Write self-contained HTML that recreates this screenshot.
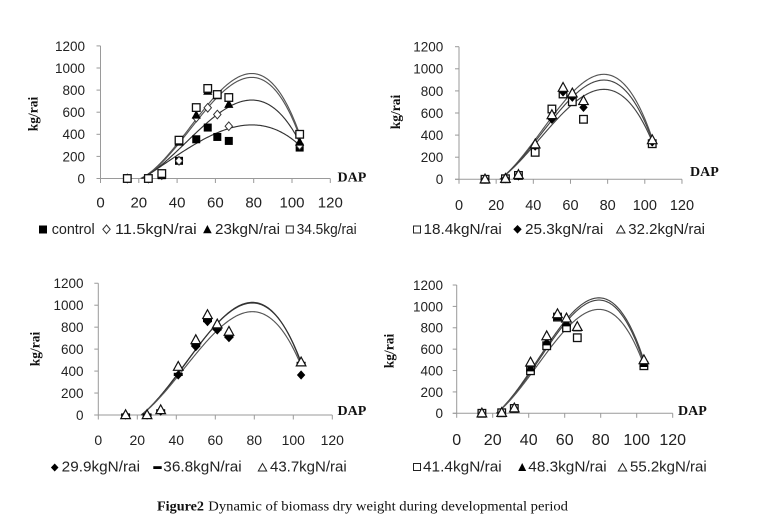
<!DOCTYPE html>
<html><head><meta charset="utf-8">
<style>
html,body{margin:0;padding:0;background:#fff;}
svg{display:block;}
.t{font-family:"Liberation Sans",Arial,sans-serif;fill:#222;}
.s{font-family:"Liberation Serif","Times New Roman",serif;fill:#111;}
</style></head><body>
<svg id="c" width="774" height="532" viewBox="0 0 774 532" xmlns="http://www.w3.org/2000/svg">
<rect x="0" y="0" width="774" height="532" fill="#fff"/>

<!-- DAP labels -->
<text class="s" x="337.5" y="181.5" font-size="14" font-weight="bold">DAP</text>
<text class="s" x="690" y="176" font-size="14" font-weight="bold">DAP</text>
<text class="s" x="337.5" y="415" font-size="14" font-weight="bold">DAP</text>
<text class="s" x="678" y="415" font-size="14" font-weight="bold">DAP</text>

<!-- kg/rai labels -->
<text class="s" font-size="13.5" font-weight="bold" text-anchor="middle" transform="translate(37.5,114) rotate(-90)">kg/rai</text>
<text class="s" font-size="13.5" font-weight="bold" text-anchor="middle" transform="translate(400,112) rotate(-90)">kg/rai</text>
<text class="s" font-size="13.5" font-weight="bold" text-anchor="middle" transform="translate(39.5,349) rotate(-90)">kg/rai</text>
<text class="s" font-size="13.5" font-weight="bold" text-anchor="middle" transform="translate(393.5,351) rotate(-90)">kg/rai</text>

<!-- Legend 1 -->
<rect x="39" y="225.5" width="8" height="8" fill="#000"/>
<text class="t" x="51.7" y="234" font-size="15" textLength="43" lengthAdjust="spacingAndGlyphs">control</text>
<polygon points="106.5,225 110.2,229.3 106.5,233.6 102.8,229.3" fill="#fff" stroke="#333" stroke-width="1"/>
<text class="t" x="115" y="234" font-size="15" textLength="81.7" lengthAdjust="spacingAndGlyphs">11.5kgN/rai</text>
<polygon points="207.4,225 211.7,233.3 203.1,233.3" fill="#000"/>
<text class="t" x="215" y="234" font-size="15" textLength="65" lengthAdjust="spacingAndGlyphs">23kgN/rai</text>
<rect x="286.3" y="226" width="7" height="7" fill="#fff" stroke="#222" stroke-width="1"/>
<text class="t" x="296.7" y="234" font-size="15" textLength="60" lengthAdjust="spacingAndGlyphs">34.5kg/rai</text>

<!-- Legend 2 -->
<rect x="413.5" y="226" width="7" height="7" fill="#fff" stroke="#222" stroke-width="1"/>
<text class="t" x="423.5" y="234" font-size="15" textLength="78.3" lengthAdjust="spacingAndGlyphs">18.4kgN/rai</text>
<polygon points="517.5,225 521.7,229.3 517.5,233.6 513.3,229.3" fill="#000"/>
<text class="t" x="525" y="234" font-size="15" textLength="78.3" lengthAdjust="spacingAndGlyphs">25.3kgN/rai</text>
<polygon points="620.8,225.5 625,233 616.6,233" fill="#fff" stroke="#222" stroke-width="1"/>
<text class="t" x="628.3" y="234" font-size="15" textLength="76.7" lengthAdjust="spacingAndGlyphs">32.2kgN/rai</text>

<!-- Legend 3 -->
<polygon points="54.7,463.5 58.5,467.5 54.7,471.5 50.9,467.5" fill="#000"/>
<text class="t" x="61.7" y="471.3" font-size="15" textLength="78.3" lengthAdjust="spacingAndGlyphs">29.9kgN/rai</text>
<rect x="153.3" y="466.2" width="8.4" height="2.8" fill="#000"/>
<text class="t" x="163.3" y="471.3" font-size="15" textLength="78.4" lengthAdjust="spacingAndGlyphs">36.8kgN/rai</text>
<polygon points="262.5,463.5 266.7,471 258.3,471" fill="#fff" stroke="#222" stroke-width="1"/>
<text class="t" x="270" y="471.3" font-size="15" textLength="76.7" lengthAdjust="spacingAndGlyphs">43.7kgN/rai</text>

<!-- Legend 4 -->
<rect x="413.5" y="463.5" width="7" height="7" fill="#fff" stroke="#222" stroke-width="1"/>
<text class="t" x="423" y="471.3" font-size="15" textLength="78.7" lengthAdjust="spacingAndGlyphs">41.4kgN/rai</text>
<polygon points="522.2,463 526.2,471 518.2,471" fill="#000"/>
<text class="t" x="528.3" y="471.3" font-size="15" textLength="78.4" lengthAdjust="spacingAndGlyphs">48.3kgN/rai</text>
<polygon points="622.5,463.5 626.7,471 618.3,471" fill="#fff" stroke="#222" stroke-width="1"/>
<text class="t" x="630" y="471.3" font-size="15" textLength="76.7" lengthAdjust="spacingAndGlyphs">55.2kgN/rai</text>

<!-- Caption -->
<text class="s" x="157" y="510.5" font-size="14" font-weight="bold" textLength="47" lengthAdjust="spacingAndGlyphs">Figure2</text>
<text class="s" x="208.3" y="510.5" font-size="14" textLength="359.7" lengthAdjust="spacingAndGlyphs">Dynamic of biomass dry weight during developmental period</text>

<g id="dyn"></g>
</svg>
<script>
(function(){
var NS="http://www.w3.org/2000/svg";
var root=document.getElementById('dyn');
function el(tag,attrs){var e=document.createElementNS(NS,tag);for(var k in attrs)e.setAttribute(k,attrs[k]);root.appendChild(e);return e;}
function txt(x,y,s,size,anchor){var e=el('text',{x:x,y:y,'font-size':size,'text-anchor':anchor,'class':'t'});e.textContent=s;return e;}
function marker(type,cx,cy){
  var s=3.8;
  if(type==='sq'){el('rect',{x:cx-s,y:cy-s,width:2*s,height:2*s,fill:'#fff',stroke:'#111','stroke-width':1.3});}
  else if(type==='fsq'){el('rect',{x:cx-4,y:cy-4,width:8,height:8,fill:'#000'});}
  else if(type==='dia'){el('polygon',{points:cx+','+(cy-4.3)+' '+(cx+3.7)+','+cy+' '+cx+','+(cy+4.3)+' '+(cx-3.7)+','+cy,fill:'#fff',stroke:'#333','stroke-width':1});}
  else if(type==='fdia'){el('polygon',{points:cx+','+(cy-4.6)+' '+(cx+4.2)+','+cy+' '+cx+','+(cy+4.6)+' '+(cx-4.2)+','+cy,fill:'#000'});}
  else if(type==='tri'){el('polygon',{points:cx+','+(cy-5.2)+' '+(cx+4.8)+','+(cy+3.6)+' '+(cx-4.8)+','+(cy+3.6),fill:'#fff',stroke:'#111','stroke-width':1.2});}
  else if(type==='ftri'){el('polygon',{points:cx+','+(cy-5)+' '+(cx+4.6)+','+(cy+3.6)+' '+(cx-4.6)+','+(cy+3.6),fill:'#000'});}
  else if(type==='dash'){el('rect',{x:cx-4.5,y:cy-1.6,width:9,height:3.2,fill:'#000'});}
}
var X=[14,25,32,41,50,56,61,67,104];
var panels=[
 {x0:100.5,xs:1.915,y0:178.5,ys:0.1105,yR:85,yF:13.5,xB:207.5,xF:15,
  curves:[[950,400,21,79,'#555'],[915,380,21,79,'#555'],[710,330,21.5,79,'#333'],[485,300,22,79,'#333']],
  series:[['fsq',[0,0,30,160,355,461,376,340,280]],
          ['dia',[0,0,30,160,550,640,579,473,300]],
          ['ftri',[0,0,30,330,575,790,750,672,330]],
          ['sq',[0,0,45,347,642,815,760,733,400]]]},
 {x0:459,xs:1.858,y0:179.3,ys:0.1105,yR:443.3,yF:13.5,xB:210,xF:14.5,
  curves:[[950,370,22,78,'#555'],[898,355,22,78,'#444'],[814,340,22,78,'#444']],
  series:[['sq',[0,5,35,244,636,772,702,543,322]],
          ['fdia',[0,5,30,300,543,790,742,651,337]],
          ['tri',[0,5,40,317,582,829,778,709,355]]]},
 {x0:98.3,xs:1.95,y0:415,ys:0.1098,yR:83.5,yF:13.5,xB:445,xF:14,
  curves:[[1026,470,22,79,'#333'],[1020,480,22,79,'#333'],[941,450,22,79,'#555']],
  series:[['fdia',[0,0,35,364,622,850,774,704,364]],
          ['dash',[0,0,38,370,635,860,785,715,470]],
          ['tri',[0,0,45,440,683,911,826,759,480]]]},
 {x0:456.7,xs:1.8,y0:413.3,ys:0.1069,yR:443,yF:13.5,xB:445,xF:16,
  curves:[[1080,495,22,79,'#444'],[1059,470,22,79,'#444'],[972,450,22,79,'#555']],
  series:[['sq',[0,5,45,398,632,900,800,707,445]],
          ['ftri',[0,5,45,426,669,903,847,800,467]],
          ['tri',[0,5,47,476,722,928,888,809,498]]]}
];
panels.forEach(function(p){
  var px=function(d){return p.x0+d*p.xs;};
  var py=function(v){return p.y0-v*p.ys;};
  // y axis
  el('line',{x1:p.x0,y1:py(1200),x2:p.x0,y2:p.y0,stroke:'#9a9a9a','stroke-width':1});
  for(var v=0;v<=1200;v+=200){
    var y=py(v);
    el('line',{x1:p.x0-4,y1:y,x2:p.x0,y2:y,stroke:'#9a9a9a','stroke-width':1});
    txt(p.yR,y+p.yF*0.36,String(v),p.yF,'end');
  }
  // x axis
  el('line',{x1:p.x0-4,y1:p.y0,x2:px(120),y2:p.y0,stroke:'#9a9a9a','stroke-width':1});
  for(var d=0;d<=120;d+=20){
    var x=px(d);
    el('line',{x1:x,y1:p.y0,x2:x,y2:p.y0+4.5,stroke:'#9a9a9a','stroke-width':1});
    txt(x,p.xB,String(d),p.xF,'middle');
  }
  // curves
  p.curves.forEach(function(c){
    var P=c[0],E=c[1],x0=c[2],xp=c[3],col=c[4];
    var u0=x0-xp,ue=104-xp;
    var det=u0*u0*ue*ue*(u0-ue);
    var k=(-P*ue*ue*ue+u0*u0*u0*(P-E))/det;
    var m=(u0*u0*(P-E)-ue*ue*P)/det;
    var pts=[];
    for(var xx=x0;xx<=104.001;xx+=0.5){
      var u=xx-xp;var yv=P-k*u*u+m*u*u*u;if(yv<0)yv=0;
      pts.push(px(xx).toFixed(2)+','+py(yv).toFixed(2));
    }
    el('polyline',{points:pts.join(' '),fill:'none',stroke:col,'stroke-width':1.15});
  });
  // markers
  p.series.forEach(function(s){
    s[1].forEach(function(v,i){marker(s[0],px(X[i]),py(v));});
  });
});
})();
</script>
</body></html>
